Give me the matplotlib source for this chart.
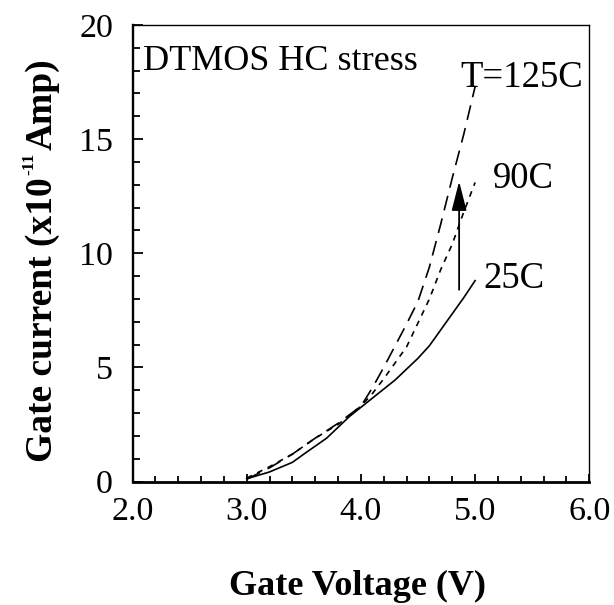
import matplotlib
matplotlib.use('Agg')
import matplotlib.pyplot as plt
from matplotlib.ticker import MultipleLocator, FormatStrFormatter

plt.rcParams['font.family'] = ['Liberation Serif', 'DejaVu Serif']

# Gate voltage (V) and gate current (x10^-11 A)
v_25 = [3.0, 3.2, 3.4, 3.5, 3.7, 3.9, 4.0, 4.1, 4.3, 4.5, 4.6, 4.75, 4.9, 5.0]
i_25 = [0.12, 0.42, 0.84, 1.2, 1.9, 2.85, 3.25, 3.65, 4.45, 5.4, 5.95, 7.0, 8.05, 8.8]

v_90 = [3.0, 3.2, 3.4, 3.6, 3.8, 4.0, 4.1, 4.2, 4.3, 4.4, 4.5, 4.6, 4.7, 4.8, 4.9, 5.0]
i_90 = [0.15, 0.65, 1.2, 1.9, 2.5, 3.3, 3.85, 4.5, 5.2, 5.9, 6.95, 8.0, 9.3, 10.4, 11.8, 13.1]

v_125 = [3.0, 3.2, 3.4, 3.6, 3.8, 4.0, 4.1, 4.2, 4.3, 4.4, 4.5, 4.6, 4.7, 4.8, 4.9, 5.0]
i_125 = [0.1, 0.6, 1.2, 1.9, 2.55, 3.3, 4.1, 5.0, 5.95, 6.9, 7.9, 9.4, 11.3, 13.3, 15.2, 17.3]

# arrow showing the temperature trend
arrow_v = 4.86
arrow_from = 8.4
arrow_to = 13.15

fig = plt.figure(figsize=(6.14, 6.05), dpi=100)
ax = fig.add_axes([0.2158, 0.2041, 0.744, 0.7546])

ax.plot(v_25, i_25, color='black', lw=1.2, linestyle='-')
ax.plot(v_90, i_90, color='black', lw=1.2, linestyle=(0, (3.5, 3.5)))
ax.plot(v_125, i_125, color='black', lw=1.2, linestyle=(0, (9, 5)))

ax.annotate('', xy=(arrow_v, arrow_to), xytext=(arrow_v, arrow_from),
            arrowprops=dict(arrowstyle='-|>,head_length=0.9,head_width=0.23',
                            mutation_scale=20, color='black', lw=1.3,
                            shrinkA=0, shrinkB=0))

ax.text(2.09, 18.02, 'DTMOS HC stress', fontsize=26, va='baseline', ha='left')
ax.text(4.868, 17.28, 'T=125C', fontsize=26.5, va='baseline', ha='left')
ax.text(5.157, 12.85, '90C', fontsize=26.5, va='baseline', ha='left')
ax.text(5.072, 8.48, '25C', fontsize=26.5, va='baseline', ha='left')

ax.set_xlim(2.0, 6.0)
ax.set_ylim(0, 20)
ax.xaxis.set_major_locator(MultipleLocator(1.0))
ax.xaxis.set_minor_locator(MultipleLocator(0.2))
ax.xaxis.set_major_formatter(FormatStrFormatter('%.1f'))
ax.yaxis.set_major_locator(MultipleLocator(5))
ax.yaxis.set_minor_locator(MultipleLocator(1))

ax.tick_params(which='both', direction='in', top=False, right=False,
               labelsize=24.5, width=1.3)
ax.tick_params(axis='x', which='major', length=6, pad=11)
ax.tick_params(axis='x', which='minor', length=4)
ax.tick_params(axis='y', which='major', length=7, pad=14)
ax.tick_params(axis='y', which='minor', length=5)

ax.spines['bottom'].set_linewidth(2.0)
ax.spines['left'].set_linewidth(1.7)
ax.spines['top'].set_linewidth(1.0)
ax.spines['right'].set_linewidth(1.0)

fig.text(0.5815, 1 - 595 / 605, 'Gate Voltage (V)', fontsize=26,
         fontweight='bold', ha='center', va='baseline')

# y label with the exponent placed in front of "Amp", as in the original
fig.text(52 / 614, 1 - 462 / 605, 'Gate current (x10', fontsize=27,
         fontweight='bold', rotation=90, rotation_mode='anchor',
         ha='left', va='baseline')
fig.text(33 / 614, 1 - 175 / 605, '-11', fontsize=12.5,
         fontweight='bold', rotation=90, rotation_mode='anchor',
         ha='left', va='baseline')
fig.text(52 / 614, 1 - 150 / 605, 'Amp)', fontsize=27,
         fontweight='bold', rotation=90, rotation_mode='anchor',
         ha='left', va='baseline')

fig.savefig('out.png', dpi=100)
